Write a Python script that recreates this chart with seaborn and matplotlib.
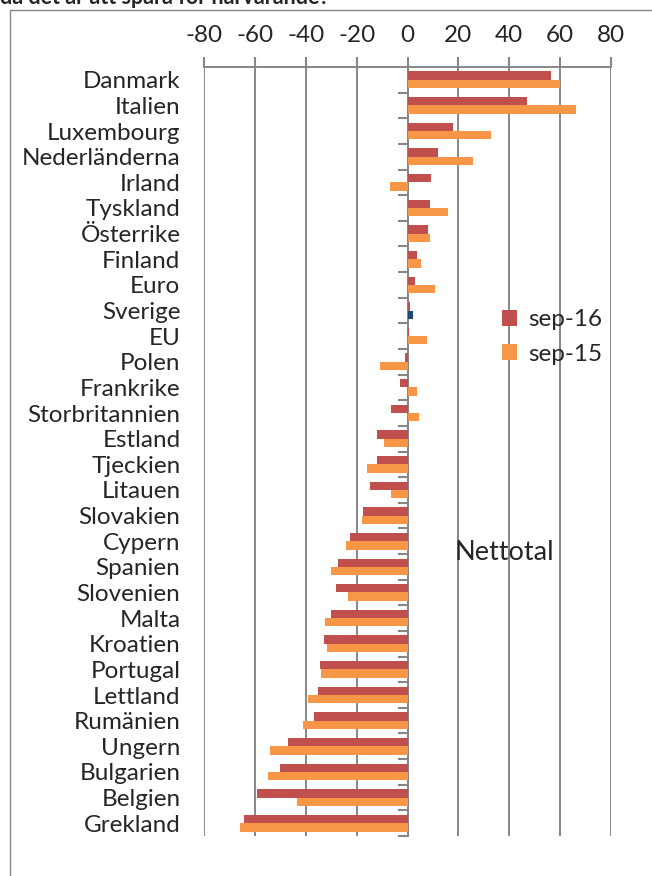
import matplotlib
matplotlib.use("Agg")
import matplotlib.pyplot as plt
from matplotlib.patches import Patch
from matplotlib.lines import Line2D
import seaborn as sns
import pandas as pd
import numpy as np

countries = ["Danmark", "Italien", "Luxembourg", "Nederländerna", "Irland", "Tyskland",
             "Österrike", "Finland", "Euro", "Sverige", "EU", "Polen", "Frankrike",
             "Storbritannien", "Estland", "Tjeckien", "Litauen", "Slovakien", "Cypern",
             "Spanien", "Slovenien", "Malta", "Kroatien", "Portugal", "Lettland",
             "Rumänien", "Ungern", "Bulgarien", "Belgien", "Grekland"]
sep16 = [56.3, 47, 18, 11.8, 9.2, 8.9, 8.0, 3.8, 2.9, 0.9, 0.5, -0.9, -2.9, -6.4, -11.8,
         -11.8, -14.6, -17.5, -22.5, -27.2, -28.0, -29.9, -32.8, -34.5, -35.3, -36.9,
         -47.1, -50.3, -59.0, -64.4]
sep15 = [59.9, 66.4, 32.7, 25.8, -6.8, 15.9, 8.8, 5.2, 10.7, 2.1, 7.7, -11.0, 3.7, 4.4, -9.2,
         -15.8, -6.5, -17.9, -24.3, -30.1, -23.3, -32.4, -31.8, -34.1, -39.1, -41.0,
         -53.9, -54.9, -43.5, -66.0]
series = ["sep-16", "sep-15"]
xticks = [-80, -60, -40, -20, 0, 20, 40, 60, 80]
title = "då det är att spara för närvarande?"
axis_title = "Nettotal"
highlight = "Sverige"

colors = {"sep-16": "#C0504D", "sep-15": "#F79646"}
highlight_color = "#1F497D"
grid_color = "#868686"

df = pd.DataFrame({
    "land": countries * 2,
    "value": sep16 + sep15,
    "serie": ["sep-16"] * len(countries) + ["sep-15"] * len(countries),
})

sns.set_style("white")
plt.rcParams["font.family"] = ["Lato", "DejaVu Sans"]

W, H = 652, 876
fig = plt.figure(figsize=(W / 100, H / 100), dpi=100)
ax = fig.add_axes([204 / W, 1 - 836 / H, (611 - 204) / W, (836 - 67) / H])

sns.barplot(data=df, y="land", x="value", hue="serie", order=countries,
            hue_order=series, palette=colors, orient="h", width=0.65,
            saturation=1, legend=False, ax=ax, linewidth=0, errorbar=None)

# highlight Sverige sep-15 bar
idx = countries.index(highlight)
ax.containers[1][idx].set_facecolor(highlight_color)

ax.set_xlim(-80, 80)
ax.set_ylim(len(countries) - 0.5, -0.5)
ax.set_xlabel("")
ax.set_ylabel("")

ax.xaxis.set_ticks_position("top")
ax.set_xticks(xticks)
ax.set_xticklabels([str(v) for v in xticks], fontsize=17.5)
ax.tick_params(axis="x", direction="out", length=7, width=1.5, color=grid_color, pad=8)
ax.grid(axis="x", color=grid_color, linewidth=1.4)
ax.set_axisbelow(True)

ax.tick_params(axis="y", length=0, labelsize=17.5, pad=17)
for s in ["left", "right", "bottom"]:
    ax.spines[s].set_visible(False)
ax.spines["top"].set_color(grid_color)
ax.spines["top"].set_linewidth(1.4)

# vertical axis at zero with boundary ticks
sec = ax.secondary_yaxis(0.5)
sec.set_alignment("left")
sec.set_yticks(np.arange(len(countries)) + 0.5)
sec.set_yticklabels([])
sec.tick_params(axis="y", direction="out", length=7, width=1.5, color=grid_color)
for s in sec.spines.values():
    s.set_color(grid_color)
    s.set_linewidth(1.4)

handles = [Patch(facecolor=colors[s], edgecolor="none") for s in series]
fig.legend(handles, series, loc="center left", bbox_to_anchor=(490 / W, 1 - 337 / H),
           frameon=False, fontsize=17.5, handlelength=0.62, handleheight=0.62,
           handletextpad=0.45, labelspacing=0.55, borderpad=0)

fig.text(504 / W, 1 - 552 / H, axis_title, fontsize=19.5, ha="center", va="center")

# chart frame
fig.add_artist(Line2D([10 / W, 10 / W], [0, 1 - 10 / H], transform=fig.transFigure,
                      color=grid_color, linewidth=1))
fig.add_artist(Line2D([10 / W, 1], [1 - 10 / H, 1 - 10 / H], transform=fig.transFigure,
                      color=grid_color, linewidth=1))

fig.text(0 / W, 1 - 4 / H, title, fontsize=15.5, fontweight="bold", ha="left",
         va="baseline")

fig.savefig("out.png", dpi=100)
